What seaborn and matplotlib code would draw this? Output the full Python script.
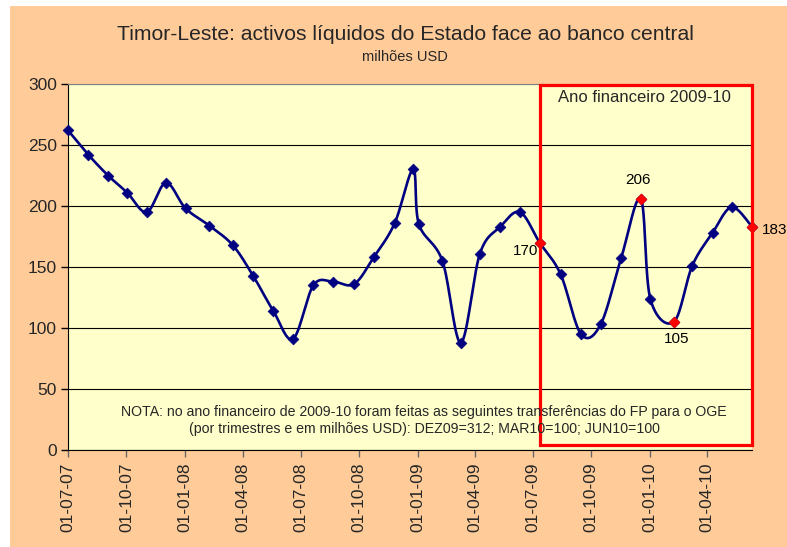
import numpy as np
import pandas as pd
import matplotlib
matplotlib.use("Agg")
import matplotlib.pyplot as plt
import matplotlib.dates as mdates
from matplotlib.patches import Rectangle
import seaborn as sns

# ---------------- data ----------------
dates = ["2007-07-01", "2007-08-02", "2007-09-02", "2007-10-02", "2007-11-02", "2007-12-02",
         "2008-01-02", "2008-02-08", "2008-03-16", "2008-04-17", "2008-05-19", "2008-06-19",
         "2008-07-21", "2008-08-21", "2008-09-23", "2008-10-24", "2008-11-26", "2008-12-25",
         "2009-01-03", "2009-02-09", "2009-03-10", "2009-04-09", "2009-05-11", "2009-06-11",
         "2009-07-12", "2009-08-14", "2009-09-15", "2009-10-16", "2009-11-17", "2009-12-18",
         "2010-01-02", "2010-02-08", "2010-03-09", "2010-04-10", "2010-05-10", "2010-06-11"]
values = [262, 242, 225, 211, 195, 219, 198, 184, 168, 143, 114, 91,
          135, 138, 136, 158, 186, 230, 185, 155, 88, 161, 183, 195,
          170, 144, 95, 103, 157, 206, 124, 105, 151, 178, 199, 183]
highlight_dates = ["2009-07-12", "2009-12-18", "2010-02-08", "2010-06-11"]
highlight_values = [170, 206, 105, 183]
highlight_labels = ["170", "206", "105", "183"]
y_ticks = [0, 50, 100, 150, 200, 250, 300]

title = "Timor-Leste: activos líquidos do Estado face ao banco central"
subtitle = "milhões USD"
box_label = "Ano financeiro 2009-10"
note_line1 = "NOTA: no ano financeiro de 2009-10 foram feitas as seguintes transferências do FP para o OGE"
note_line2 = "(por trimestres e em milhões USD): DEZ09=312; MAR10=100; JUN10=100"

# ---------------- style ----------------
sns.set_style("white")
plt.rcParams["font.family"] = ["Liberation Sans", "DejaVu Sans"]

PEACH = "#FFCC99"
PLOT_BG = "#FFFFCC"
NAVY = "#000080"
RED = "#FF0000"

W, H = 787, 547
fig = plt.figure(figsize=(W / 100, H / 100), dpi=100)
fig.patch.set_facecolor("white")
fig.patches.append(Rectangle((10 / W, 0), 1, 541 / H, transform=fig.transFigure,
                             facecolor=PEACH, edgecolor="none", zorder=-10))

ax = fig.add_axes([68 / W, (H - 450) / H, (752 - 68) / W, (450 - 84) / H])
ax.set_facecolor(PLOT_BG)

x = mdates.date2num(pd.to_datetime(dates))
y = np.array(values, dtype=float)

# smoothed (Excel-like Catmull-Rom Bezier) curve, computed in pixel-proportional space
sx, sy = 0.634, 1.22
X = (x - x[0]) * sx
Y = y * sy
n = len(X)
cx, cy = [], []
for i in range(n - 1):
    p0 = np.array([X[max(i - 1, 0)], Y[max(i - 1, 0)]])
    p1 = np.array([X[i], Y[i]])
    p2 = np.array([X[i + 1], Y[i + 1]])
    p3 = np.array([X[min(i + 2, n - 1)], Y[min(i + 2, n - 1)]])
    c1 = p1 + (p2 - p0) / 6.0
    c2 = p2 - (p3 - p1) / 6.0
    t = np.linspace(0, 1, 30)[:, None]
    pts = ((1 - t) ** 3) * p1 + 3 * ((1 - t) ** 2) * t * c1 + 3 * (1 - t) * t ** 2 * c2 + t ** 3 * p2
    cx.extend(pts[:, 0]); cy.extend(pts[:, 1])
curve = pd.DataFrame({"x": np.array(cx) / sx + x[0], "y": np.array(cy) / sy})

sns.lineplot(data=curve, x="x", y="y", sort=False, estimator=None, color=NAVY,
             linewidth=1.9, ax=ax, zorder=3)
sns.scatterplot(x=x, y=y, marker="D", s=30, color=NAVY, edgecolor=NAVY, linewidth=0.5,
                ax=ax, zorder=4, clip_on=False)

hx = mdates.date2num(pd.to_datetime(highlight_dates))
sns.scatterplot(x=hx, y=highlight_values, marker="D", s=30, color=RED, edgecolor=RED,
                linewidth=0.5, ax=ax, zorder=5, clip_on=False)

offsets = [(-1, -8, "right", "center"), (-3, 12, "center", "bottom"),
           (3, -10, "center", "top"), (10, -3, "left", "center")]
for xx, yy, lab, (dx, dy, ha, va) in zip(hx, highlight_values, highlight_labels, offsets):
    ax.annotate(lab, (xx, yy), xytext=(dx, dy), textcoords="offset pixels",
                ha=ha, va=va, fontsize=11, color="black", annotation_clip=False)

# red box for the fiscal year
ax.add_patch(Rectangle((hx[0], 4), hx[-1] - hx[0], 295.5, fill=False, edgecolor=RED,
                       linewidth=2.3, zorder=6, clip_on=False))
ax.text((644 - 68) / (752 - 68), (450 - 97) / 366, box_label, transform=ax.transAxes,
        ha="center", va="center", fontsize=12)

ax.text((424 - 68) / (752 - 68), (450 - 412) / 366, note_line1, transform=ax.transAxes,
        ha="center", va="center", fontsize=10.2, zorder=7)
ax.text((424 - 68) / (752 - 68), (450 - 429) / 366, note_line2, transform=ax.transAxes,
        ha="center", va="center", fontsize=10.2, zorder=7)

# axes
ax.set_xlim(x[0], x[-1])
ax.set_ylim(0, 300)
ax.set_yticks(y_ticks)
ax.yaxis.grid(True, color="black", linewidth=0.8)
ax.xaxis.grid(False)
ax.get_ygridlines()[-1].set_color("#808080")
ax.set_axisbelow(True)

ax.xaxis.set_major_locator(mdates.MonthLocator(bymonth=[1, 4, 7, 10], bymonthday=1))
ax.xaxis.set_major_formatter(mdates.DateFormatter("%d-%m-%y"))
ax.tick_params(axis="x", rotation=90, labelsize=12.5, length=5, width=1, color="#666666",
               bottom=True, pad=4)
ax.tick_params(axis="y", labelsize=12.5, length=5, width=1, color="black", left=True, pad=3)
for lab in ax.get_xticklabels():
    lab.set_verticalalignment("top")

ax.spines["right"].set_visible(False)
ax.spines["top"].set_color("#808080")
ax.spines["left"].set_color("black")
ax.spines["bottom"].set_color("black")
ax.set_xlabel("")
ax.set_ylabel("")

fig.text(405 / W, 1 - 35 / H, title, ha="center", va="center", fontsize=15.2)
fig.text(405 / W, 1 - 57 / H, subtitle, ha="center", va="center", fontsize=10.5)

fig.savefig("out.png", dpi=100)
